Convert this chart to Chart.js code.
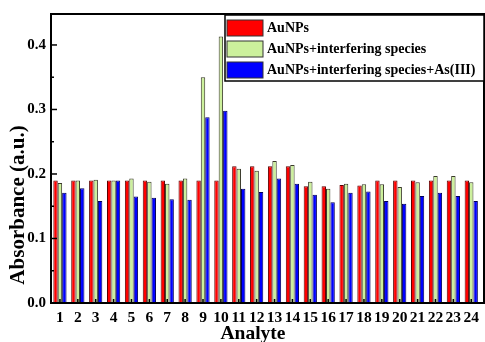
<!DOCTYPE html>
<html>
<head>
<meta charset="utf-8">
<script src="https://cdn.jsdelivr.net/npm/chart.js@4"></script>
<style>
  body { margin: 0; background: #fff; }
  #wrap { width: 485px; height: 342px; }
</style>
</head>
<body>
<div id="wrap"><canvas id="absChart"></canvas></div>
<script>
// categories and series
const analytes = ['1','2','3','4','5','6','7','8','9','10','11','12','13','14','15','16','17','18','19','20','21','22','23','24'];
const auNPs = [0.190,0.190,0.190,0.190,0.190,0.190,0.190,0.190,0.190,0.190,0.212,0.212,0.212,0.212,0.181,0.181,0.183,0.182,0.190,0.190,0.190,0.190,0.190,0.190];
const withSpecies = [0.186,0.190,0.191,0.190,0.193,0.188,0.185,0.193,0.350,0.413,0.208,0.205,0.220,0.214,0.188,0.177,0.185,0.184,0.184,0.180,0.187,0.197,0.197,0.187];
const withAs = [0.171,0.178,0.158,0.190,0.165,0.163,0.161,0.160,0.288,0.298,0.177,0.172,0.193,0.185,0.168,0.156,0.171,0.173,0.158,0.154,0.166,0.171,0.166,0.158];
const yTicks = [0.0, 0.1, 0.2, 0.3, 0.4];

const serif = '"Liberation Serif", "DejaVu Serif", serif';

// frame, inward ticks, axis titles and boxed legend
const framePlugin = {
    id: 'frame',
    afterDraw(chart) {
        const ctx = chart.ctx;
        const a = chart.chartArea;
        const xs = chart.scales.x, ys = chart.scales.y;
        const right = 484;
        ctx.save();
        ctx.strokeStyle = '#000';
        ctx.lineWidth = 2;
        ctx.strokeRect(a.left, a.top, right - a.left, a.bottom - a.top);
        ctx.lineWidth = 1.5;
        // y ticks inward (major and minor)
        ys.ticks.forEach(t => {
            const y = ys.getPixelForValue(t.value);
            const major = Math.abs(t.value * 10 - Math.round(t.value * 10)) < 1e-6;
            ctx.beginPath();
            ctx.moveTo(a.left, y);
            ctx.lineTo(a.left + (major ? 6 : 3), y);
            ctx.stroke();
        });
        // x ticks inward
        analytes.forEach((c, i) => {
            const x = xs.getPixelForValue(i);
            ctx.beginPath();
            ctx.moveTo(x, a.bottom);
            ctx.lineTo(x, a.bottom - 4);
            ctx.stroke();
        });
        // axis titles (placed off-centre like the original)
        ctx.fillStyle = '#000';
        ctx.textAlign = 'center';
        ctx.textBaseline = 'middle';
        ctx.font = 'bold 19.5px ' + serif;
        ctx.fillText('Analyte', 253, 334);
        ctx.save();
        ctx.translate(19, 205);
        ctx.rotate(-Math.PI / 2);
        ctx.font = 'bold 21px ' + serif;
        ctx.fillText('Absorbance (a.u.)', 0, 0);
        ctx.restore();
        // legend box
        const lx = 225, ly = a.top + 1, lw = right - lx, lh = 66;
        ctx.fillStyle = '#fff';
        ctx.fillRect(lx, ly, lw, lh);
        ctx.strokeStyle = '#000';
        ctx.lineWidth = 1.5;
        ctx.strokeRect(lx, ly, lw, lh);
        ctx.font = 'bold 14px ' + serif;
        ctx.textAlign = 'left';
        chart.data.datasets.forEach((ds, i) => {
            const ry = ly + 13 + i * 21;
            ctx.fillStyle = ds.backgroundColor;
            ctx.fillRect(lx + 2, ry - 8, 36, 16);
            ctx.strokeStyle = '#333';
            ctx.lineWidth = 1;
            ctx.strokeRect(lx + 2, ry - 8, 36, 16);
            ctx.fillStyle = '#000';
            ctx.fillText(ds.label, lx + 42, ry);
        });
        ctx.restore();
    }
};

new Chart(document.getElementById('absChart'), {
    type: 'bar',
    data: {
        labels: analytes,
        datasets: [
            { label: 'AuNPs', data: auNPs, backgroundColor: '#ff0000', borderColor: '#5a0000', borderWidth: 1 },
            { label: 'AuNPs+interfering species', data: withSpecies, backgroundColor: '#ccf09c', borderColor: '#3a3a2a', borderWidth: 1 },
            { label: 'AuNPs+interfering species+As(III)', data: withAs, backgroundColor: '#0000ff', borderColor: '#00005a', borderWidth: 1 }
        ]
    },
    options: {
        responsive: true,
        maintainAspectRatio: false,
        animation: false,
        layout: { padding: { top: 11, right: 0, left: 0, bottom: 0 } },
        plugins: {
            legend: { display: false },
            tooltip: { enabled: false }
        },
        datasets: { bar: { barPercentage: 1.0, categoryPercentage: 0.74 } },
        scales: {
            x: {
                grid: { display: false, drawTicks: false },
                border: { display: false },
                ticks: { color: '#000', font: { family: serif, weight: 'bold', size: 15.5 }, padding: 6, maxRotation: 0, autoSkip: false },
                afterFit(s) { s.height = 39; }
            },
            y: {
                min: 0,
                max: 0.448,
                grid: { display: false, drawTicks: false },
                border: { display: false },
                afterBuildTicks(s) {
                    s.ticks = [0, 0.05, 0.1, 0.15, 0.2, 0.25, 0.3, 0.35, 0.4].map(v => ({ value: v }));
                },
                ticks: {
                    color: '#000',
                    font: { family: serif, weight: 'bold', size: 15 },
                    padding: 5,
                    callback: (v) => yTicks.some(t => Math.abs(t - v) < 1e-6) ? v.toFixed(1) : ''
                },
                afterFit(s) { s.width = 51; }
            }
        }
    },
    plugins: [framePlugin]
});
</script>
</body>
</html>
